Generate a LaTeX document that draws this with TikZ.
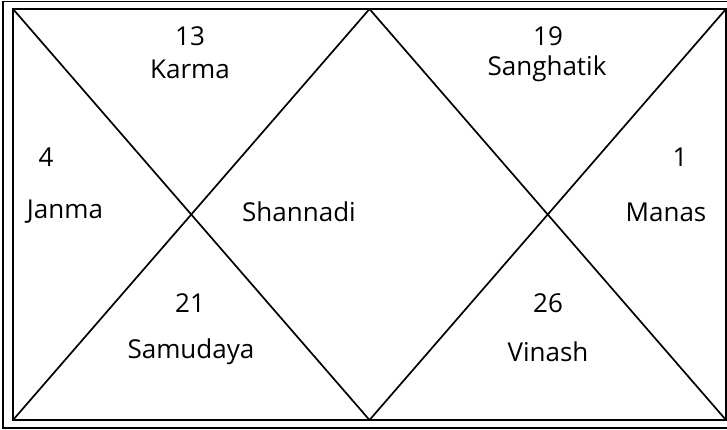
\documentclass[tikz,border=0pt]{standalone}
\usepackage{fontspec}
\setmainfont{Open Sans}
\usetikzlibrary{positioning}

\begin{document}
\begin{tikzpicture}[
    x=1pt, y=-1pt,
    frame/.style={draw, line width=1.8pt},
    house/.style={line width=1.7pt},
    num/.style={font=\fontsize{26}{28}\selectfont, inner sep=0pt},
    lbl/.style={font=\fontsize{26}{28}\selectfont, inner sep=0pt}
]
\useasboundingbox (0,0) rectangle (727,430);
\def\xL{13}
\def\xM{369.5}
\def\xR{726}
\def\yT{9}
\def\yB{420}

% Frames
\draw[frame] (3,1.5) rectangle (734,428);
\draw[frame] (\xL,\yT) rectangle (\xR,\yB);

% Corners
\coordinate (tl) at (\xL,\yT);
\coordinate (tm) at (\xM,\yT);
\coordinate (tr) at (\xR,\yT);
\coordinate (bl) at (\xL,\yB);
\coordinate (bm) at (\xM,\yB);
\coordinate (br) at (\xR,\yB);

% Diagonals
\draw[house] (tl) -- (bm);
\draw[house] (tm) -- (bl);
\draw[house] (tm) -- (br);
\draw[house] (tr) -- (bm);

% Houses
\node[num] (n13) at (190,36) {13};
\node[lbl] (karma) at (190,69) {Karma};
\node[num] (n19) at (548,36) {19};
\node[lbl] (sanghatik) at (547,69) {Sanghatik};
\node[num] (n4) at (46,157) {4};
\node[lbl] (janma) at (65,212) {Janma};
\node[lbl] (shannadi) at (299,212) {Shannadi};
\node[num] (n1) at (680,157) {1};
\node[lbl] (manas) at (666,212) {Manas};
\node[num] (n21) at (190,303) {21};
\node[lbl] (samudaya) at (191,352) {Samudaya};
\node[num] (n26) at (548,303) {26};
\node[lbl] (vinash) at (548,352) {Vinash};

\end{tikzpicture}
\end{document}
